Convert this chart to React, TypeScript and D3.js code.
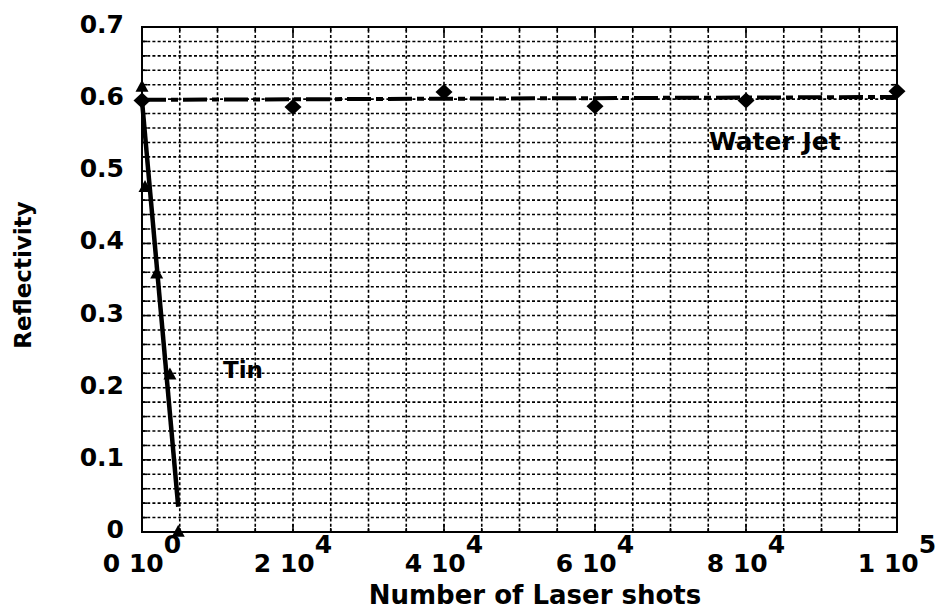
import React from "react";
import * as d3 from "d3";

const W = 942;
const H = 611;
const margin = { left: 142, right: 45, top: 27, bottom: 79 };

// Axis ticks
const xMajorTicks = [0, 20000, 40000, 60000, 80000, 100000];
const xTickMantissa = ["0", "2", "4", "6", "8", "1"];
const xTickExponent = ["0", "4", "4", "4", "4", "5"];
const xMinorStep = 5000;
const yMajorTicks = [0, 0.1, 0.2, 0.3, 0.4, 0.5, 0.6, 0.7];
const yTickLabels = ["0", "0.1", "0.2", "0.3", "0.4", "0.5", "0.6", "0.7"];
const yMinorStep = 0.02;

// Water Jet (diamonds) and its dash-dot line
const waterX = [0, 20000, 40000, 60000, 80000, 100000];
const waterY = [0.598, 0.589, 0.61, 0.59, 0.598, 0.611];
const waterLineX = [0, 100000];
const waterLineY = [0.599, 0.603];

// Tin (triangles) and its solid line
const tinX = [0, 400, 1950, 3700, 4800];
const tinY = [0.617, 0.478, 0.358, 0.218, 0.0];
const tinLineX = [0, 4800];
const tinLineY = [0.598, 0.035];

const FONT = "'DejaVu Sans', 'Liberation Sans', Arial, sans-serif";

export default function App() {
  const x0 = margin.left;
  const x1 = W - margin.right;
  const y0 = H - margin.bottom;
  const y1 = margin.top;

  const x = d3.scaleLinear().domain([0, 100000]).range([x0, x1]);
  const y = d3.scaleLinear().domain([0, 0.7]).range([y0, y1]);

  const xMinor = d3.range(0, 100000 + 1, xMinorStep);
  const yMinor = d3.range(0, 0.7 + 1e-9, yMinorStep);

  const line = d3
    .line<[number, number]>()
    .x((d) => x(d[0]))
    .y((d) => y(d[1]));

  const waterLine = line(waterLineX.map((v, i) => [v, waterLineY[i]]))!;
  const tinLine = line(tinLineX.map((v, i) => [v, tinLineY[i]]))!;

  const diamond = (cx: number, cy: number) => {
    const hw = 8.5,
      hh = 8;
    return `M${cx},${cy - hh}L${cx + hw},${cy}L${cx},${cy + hh}L${cx - hw},${cy}Z`;
  };
  const triangle = (cx: number, cy: number) => {
    const hw = 6.5,
      h = 12;
    return `M${cx},${cy - h * 0.6}L${cx + hw},${cy + h * 0.4}L${cx - hw},${cy + h * 0.4}Z`;
  };

  const isMajorX = (v: number) => xMajorTicks.some((t) => Math.abs(t - v) < 1);
  const isMajorY = (v: number) => yMajorTicks.some((t) => Math.abs(t - v) < 1e-6);

  return (
    <svg
      width={W}
      height={H}
      style={{ position: "absolute", left: 0, top: 0, background: "#fff" }}
      fontFamily={FONT}
      fontWeight="bold"
    >
      <rect x={0} y={0} width={W} height={H} fill="#fff" />
      {/* grid */}
      <g stroke="#000" strokeWidth={1.6} strokeDasharray="3,2.2">
        {xMinor
          .filter((v) => v > 0 && v < 100000)
          .map((v) => (
            <line key={"gx" + v} x1={x(v)} x2={x(v)} y1={y0} y2={y1} />
          ))}
        {yMinor
          .filter((v) => v > 1e-6 && v < 0.7 - 1e-6)
          .map((v) => (
            <line key={"gy" + v} x1={x0} x2={x1} y1={y(v)} y2={y(v)} />
          ))}
      </g>
      {/* ticks */}
      <g stroke="#000" strokeWidth={1.6}>
        {xMinor.map((v) => {
          const len = isMajorX(v) ? 8 : 4;
          return (
            <g key={"tx" + v}>
              <line x1={x(v)} x2={x(v)} y1={y0} y2={y0 - len} />
              <line x1={x(v)} x2={x(v)} y1={y1} y2={y1 + len} />
            </g>
          );
        })}
        {yMinor.map((v) => {
          const len = isMajorY(v) ? 9 : 5;
          return (
            <g key={"ty" + v}>
              <line x1={x0} x2={x0 + len} y1={y(v)} y2={y(v)} />
              <line x1={x1} x2={x1 - len} y1={y(v)} y2={y(v)} />
            </g>
          );
        })}
      </g>
      {/* frame */}
      <rect
        x={x0}
        y={y1}
        width={x1 - x0}
        height={y0 - y1}
        fill="none"
        stroke="#000"
        strokeWidth={2}
      />
      {/* Water jet line */}
      <path
        d={waterLine}
        fill="none"
        stroke="#000"
        strokeWidth={4}
        strokeDasharray="24,5,7,5"
      />
      {/* Tin line */}
      <path d={tinLine} fill="none" stroke="#000" strokeWidth={4.5} strokeLinecap="butt" />
      {/* markers */}
      {waterX.map((v, i) => (
        <path key={"wd" + i} d={diamond(x(v), y(waterY[i]))} fill="#000" />
      ))}
      {tinX.map((v, i) => (
        <path key={"tt" + i} d={triangle(x(v), y(tinY[i]))} fill="#000" />
      ))}
      {/* y tick labels */}
      {yMajorTicks.map((v, i) => (
        <text
          key={"yl" + v}
          x={124}
          y={y(v) + 6}
          textAnchor="end"
          fontSize={25}
          fill="#000"
        >
          {yTickLabels[i]}
        </text>
      ))}
      {/* x tick labels */}
      {xMajorTicks.map((v, i) => (
        <text key={"xl" + v} x={x(v)} y={572} textAnchor="middle" fontSize={25} fill="#000">
          <tspan>{xTickMantissa[i] + " 10"}</tspan>
          <tspan dy={-19}>{xTickExponent[i]}</tspan>
        </text>
      ))}
      {/* axis titles */}
      <text x={535} y={604} textAnchor="middle" fontSize={26} fill="#000">
        Number of Laser shots
      </text>
      <text
        transform={`translate(31,275) rotate(-90)`}
        textAnchor="middle"
        fontSize={23}
        fill="#000"
      >
        Reflectivity
      </text>
      {/* annotations */}
      <text x={223} y={378} fontSize={23} fill="#000">
        Tin
      </text>
      <text x={709} y={150} fontSize={25} fill="#000">
        Water Jet
      </text>
    </svg>
  );
}
